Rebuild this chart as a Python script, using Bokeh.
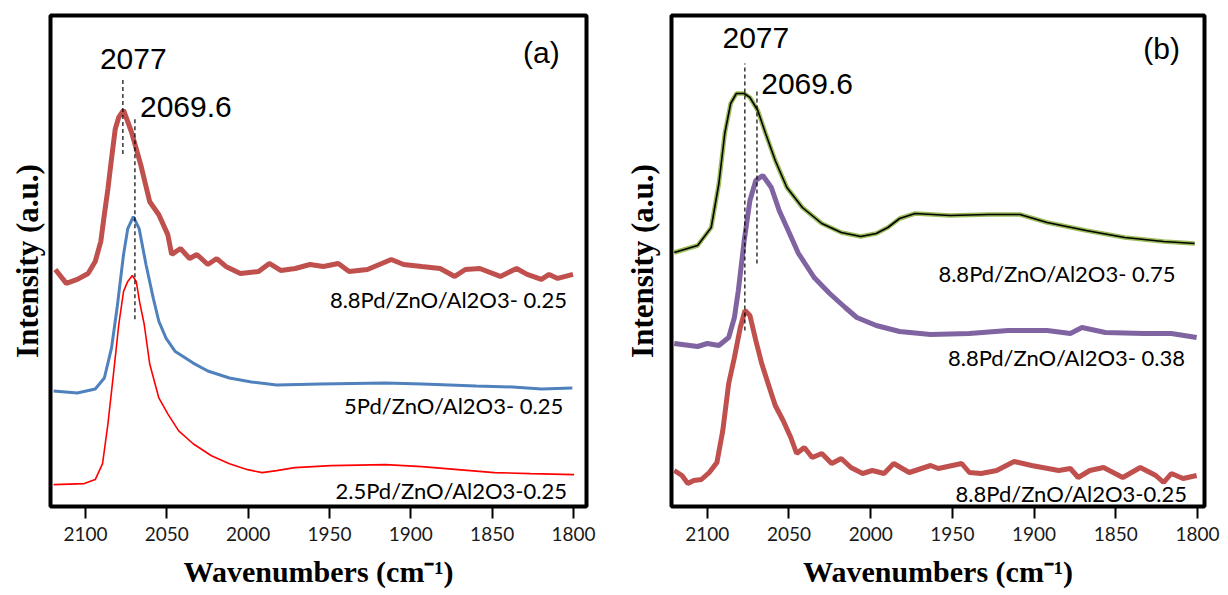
from bokeh.plotting import figure
from bokeh.layouts import row
from bokeh.models import Range1d, FixedTicker, Label
from bokeh.embed import file_html
from bokeh.resources import INLINE

# ---------------- data ----------------
x_ticks = [2100, 2050, 2000, 1950, 1900, 1850, 1800]

# panel (a)
a_88_x = [2118.5, 2111.8, 2105.0, 2098.4, 2094.0, 2090.6, 2088.4, 2086.2, 2084.0, 2081.7, 2079.5, 2076.6,
          2071.7, 2066.0, 2060.5, 2054.9, 2049.4, 2047.0, 2041.6, 2036.0, 2031.5, 2024.8, 2019.3, 2013.7,
          2004.8, 1993.6, 1987.0, 1980.0, 1971.0, 1962.0, 1953.8, 1944.6, 1937.9, 1926.7, 1912.0, 1904.4,
          1893.3, 1882.0, 1873.0, 1866.5, 1857.6, 1845.0, 1835.0, 1828.5, 1819.7, 1815.0, 1809.7, 1800.3]
a_88_y = [238, 224, 228, 234, 246, 266, 293, 319, 349, 379, 391, 398,
          376, 343, 306, 293, 273, 253, 259, 249, 253, 243, 249, 241,
          234, 236, 244, 237, 239, 243, 241, 244, 236, 238, 248, 243,
          241, 239, 231, 238, 239, 231, 239, 233, 228, 233, 229, 233]

a_5_x = [2119.6, 2105.0, 2094.0, 2088.4, 2084.0, 2080.6, 2076.6, 2074.0, 2070.6, 2067.0, 2062.8, 2058.3,
         2054.9, 2050.5, 2045.0, 2033.8, 2024.8, 2011.5, 1998.0, 1982.5, 1955.7, 1915.6, 1893.0, 1859.8,
         1837.5, 1819.7, 1800.7]
a_5_y = [116, 114, 118, 129, 159, 199, 253, 279, 291, 279, 243, 209,
         186, 169, 156, 144, 136, 129, 125, 122, 123, 124, 123, 121,
         120, 118, 119]

a_25_x = [2119.6, 2100.7, 2094.0, 2089.5, 2086.2, 2082.8, 2079.5, 2076.6, 2074.0, 2071.2, 2068.8, 2066.8,
          2063.9, 2060.5, 2054.9, 2049.4, 2042.7, 2033.8, 2022.6, 2011.5, 2000.3, 1991.4, 1982.5, 1971.3,
          1949.0, 1915.6, 1893.3, 1871.0, 1848.7, 1826.4, 1799.6]
a_25_y = [22, 23, 27, 43, 83, 133, 183, 216, 226, 232, 226, 206,
          183, 143, 109, 93, 76, 63, 51, 43, 37, 34, 36, 39,
          41, 42, 40, 37, 34, 33, 32]

# panel (b)
b_75_x = [2120.2, 2105.9, 2097.6, 2092.9, 2089.3, 2085.7, 2082.2, 2077.4, 2073.9, 2069.1, 2064.3, 2058.4,
          2051.3, 2041.8, 2029.9, 2018.0, 2006.1, 1996.6, 1989.5, 1982.3, 1972.8, 1951.4, 1927.7, 1908.6,
          1892.0, 1868.2, 1844.5, 1820.7, 1801.7]
b_75_y = [254, 261, 279, 323, 373, 403, 413, 413, 409, 396, 373, 346,
          319, 299, 283, 274, 270, 273, 279, 288, 293, 291, 292, 292,
          284, 276, 269, 265, 263]

b_38_x = [2120.2, 2105.9, 2100.0, 2092.9, 2086.9, 2083.4, 2081.0, 2077.4, 2073.9, 2070.3, 2066.0, 2060.8,
          2056.0, 2051.3, 2044.2, 2034.6, 2025.1, 2015.6, 2008.5, 1996.6, 1982.3, 1963.3, 1939.6, 1915.8,
          1892.0, 1877.8, 1870.7, 1856.4, 1832.7, 1816.0, 1800.5]
b_38_y = [163, 160, 163, 161, 169, 189, 216, 266, 306, 326, 331, 319,
          296, 279, 253, 229, 213, 199, 189, 181, 175, 172, 173, 176,
          176, 173, 179, 174, 173, 173, 169]

b_25_x = [2120.2, 2115.5, 2111.9, 2108.3, 2103.6, 2098.8, 2094.1, 2090.5, 2086.9, 2083.4, 2079.8, 2076.9,
          2073.9, 2070.3, 2066.7, 2062.0, 2058.4, 2053.6, 2048.9, 2045.3, 2040.6, 2035.8, 2029.9, 2023.9,
          2018.0, 2012.1, 2004.9, 1999.0, 1991.8, 1985.9, 1976.4, 1963.3, 1958.6, 1944.3, 1939.6, 1932.4,
          1922.9, 1912.2, 1901.5, 1884.9, 1877.8, 1873.0, 1865.9, 1857.5, 1845.7, 1835.0, 1825.5, 1820.7,
          1816.0, 1808.8, 1800.5]
b_25_y = [36, 31, 23, 26, 27, 34, 44, 76, 123, 149, 179, 196,
          191, 166, 143, 119, 101, 86, 69, 53, 59, 49, 53, 43,
          48, 39, 33, 36, 33, 43, 34, 41, 38, 43, 34, 33,
          36, 45, 41, 36, 38, 29, 36, 39, 29, 39, 31, 24,
          33, 28, 31]

peak_labels = ["2077", "2069.6"]
peak_pos = [2077, 2069.6]
# dashed marker extents (bottom, top) per panel
a_mark_y = [(354, 429), (188, 389)]
b_mark_y = [(176, 443), (243, 418)]

a_names = ["8.8Pd/ZnO/Al2O3- 0.25", "5Pd/ZnO/Al2O3- 0.25", "2.5Pd/ZnO/Al2O3-0.25"]
b_names = ["8.8Pd/ZnO/Al2O3-  0.75", "8.8Pd/ZnO/Al2O3- 0.38", "8.8Pd/ZnO/Al2O3-0.25"]
x_title = "Wavenumbers (cm\u207b\u00b9)"
y_title = "Intensity (a.u.)"

C_RED = "#C0504D"
C_BLUE = "#4F81BD"
C_BRIGHT = "#FF0000"
C_PURPLE = "#8064A2"
C_GREEN = "#9BBB59"

LABEL_FONT = "Lato"
NUM_FONT = "Liberation Sans"
TITLE_FONT = "Liberation Serif"


def make_fig(xr, yr, width, border_left, border_right, border_top, ytitle_standoff):
    p = figure(width=width, height=595, x_range=Range1d(*xr), y_range=Range1d(*yr),
               output_backend="svg", toolbar_location=None,
               min_border_left=border_left, min_border_right=border_right,
               min_border_top=border_top, min_border_bottom=89)
    p.xgrid.visible = False
    p.ygrid.visible = False
    p.outline_line_color = "black"
    p.outline_line_width = 4
    p.background_fill_color = "white"
    p.border_fill_color = "white"
    ax = p.xaxis[0]
    ax.ticker = FixedTicker(ticks=x_ticks)
    ax.axis_line_color = None
    ax.major_tick_in = 0
    ax.major_tick_out = 12
    ax.major_tick_line_width = 2
    ax.major_tick_line_color = "black"
    ax.minor_tick_line_color = None
    ax.major_label_text_font = LABEL_FONT
    ax.major_label_text_font_size = "19px"
    ax.major_label_text_color = "#1a1a1a"
    ax.major_label_standoff = 8
    ax.axis_label = x_title
    ax.axis_label_text_font = TITLE_FONT
    ax.axis_label_text_font_style = "bold"
    ax.axis_label_text_font_size = "30px"
    ax.axis_label_text_color = "black"
    ax.axis_label_standoff = 11
    ay = p.yaxis[0]
    ay.ticker = FixedTicker(ticks=[])
    ay.axis_line_color = None
    ay.major_tick_line_color = None
    ay.minor_tick_line_color = None
    ay.major_label_text_font_size = "0px"
    ay.axis_label = y_title
    ay.axis_label_text_font = TITLE_FONT
    ay.axis_label_text_font_style = "bold"
    ay.axis_label_text_font_size = "31px"
    ay.axis_label_text_color = "black"
    ay.axis_label_standoff = ytitle_standoff
    return p


def add_marks(p, marks):
    for xv, (y0, y1) in zip(peak_pos, marks):
        p.line([xv, xv], [y0, y1], line_color="black", line_width=1.2, line_dash="4 3")


def add_text(p, x, y, t, font, size, align="left"):
    p.add_layout(Label(x=x, y=y, text=t, text_font=font, text_font_size=size,
                       text_align=align, text_baseline="middle", text_color="black"))


# ---------------- panel (a) ----------------
pa = make_fig((2121.5, 1792.0), (0, 493), 600, 50, 14, 13, 6)
pa.line(a_25_x, a_25_y, line_color=C_BRIGHT, line_width=1.6)
pa.line(a_5_x, a_5_y, line_color=C_BLUE, line_width=3)
pa.line(a_88_x, a_88_y, line_color=C_RED, line_width=5)
add_marks(pa, a_mark_y)
add_text(pa, 2070.6, 449, peak_labels[0], NUM_FONT, "30px", "center")
add_text(pa, 2066.5, 401, peak_labels[1], NUM_FONT, "30px", "left")
add_text(pa, 1819.7, 456, "(a)", NUM_FONT, "30px", "center")
add_text(pa, 1804.0, 208, a_names[0], LABEL_FONT, "22px", "right")
add_text(pa, 1806.3, 101, a_names[1], LABEL_FONT, "22px", "right")
add_text(pa, 1804.0, 16, a_names[2], LABEL_FONT, "22px", "right")

# ---------------- panel (b) ----------------
pb = make_fig((2121.9, 1795.7), (0, 491), 624, 71, 20, 15, 12)
pb.line(b_25_x, b_25_y, line_color=C_RED, line_width=5)
pb.line(b_38_x, b_38_y, line_color=C_PURPLE, line_width=5)
pb.line(b_75_x, b_75_y, line_color=C_GREEN, line_width=4.5)
pb.line(b_75_x, b_75_y, line_color="black", line_width=1.6)
add_marks(pb, b_mark_y)
add_text(pb, 2070.3, 469, peak_labels[0], NUM_FONT, "30px", "center")
add_text(pb, 2067.0, 423, peak_labels[1], NUM_FONT, "30px", "left")
add_text(pb, 1821.9, 458, "(b)", NUM_FONT, "30px", "center")
add_text(pb, 1810.0, 233, b_names[0], LABEL_FONT, "22px", "right")
add_text(pb, 1807.6, 149, b_names[1], LABEL_FONT, "22px", "right")
add_text(pb, 1806.4, 13, b_names[2], LABEL_FONT, "22px", "right")

layout = row(pa, pb)
open("out.html", "w").write(file_html(layout, INLINE))
